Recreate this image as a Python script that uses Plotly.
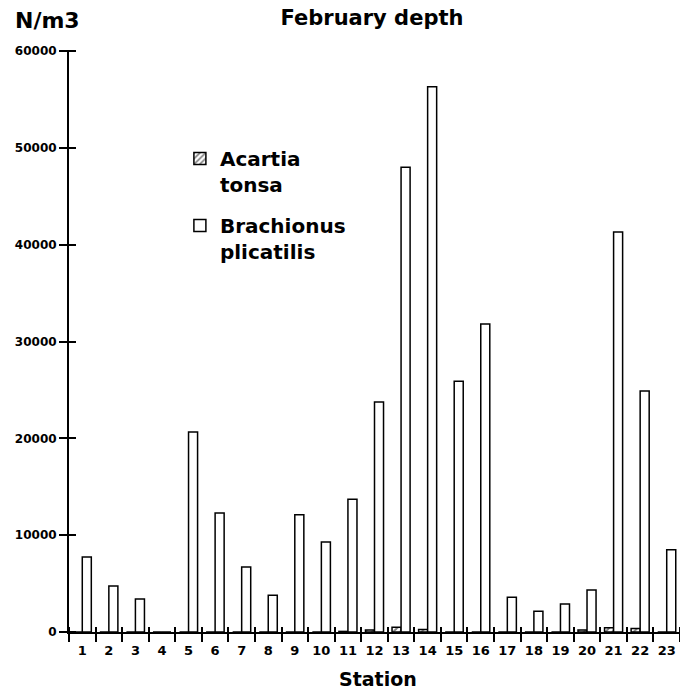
import plotly.graph_objects as go

stations = list(range(1, 24))
station_labels = [str(s) for s in stations]
acartia = [0, 0, 0, 0, 0, 0, 0, 0, 0, 0, 60, 200, 500, 250, 0, 0, 0, 0, 0, 200, 450, 350, 0]
brachionus = [7750, 4750, 3400, 0, 20650, 12300, 6700, 3800, 12100, 9300, 13700, 23750,
              48000, 56300, 25900, 31800, 3600, 2150, 2900, 4350, 41300, 24900, 8500]
y_ticks = [0, 10000, 20000, 30000, 40000, 50000, 60000]
boundaries = [s + 0.5 for s in [0] + stations]

FONT = "DejaVu Sans"
PW, PH = 611, 581  # plot area size in px
fig = go.Figure()
fig.add_trace(go.Bar(
    x=stations, y=acartia, name="<b>Acartia<br>tonsa</b>", legendgroup="a",
    marker=dict(color="white", line=dict(color="black", width=1.5),
                pattern=dict(shape="/", fgcolor="black", bgcolor="white", size=5, solidity=0.4)),
))
fig.add_trace(go.Bar(
    x=stations, y=brachionus, name="<b>Brachionus<br>plicatilis</b>", legendgroup="b",
    marker=dict(color="white", line=dict(color="black", width=1.5)),
))
# invisible helper traces so the crossing-tick axes are drawn
fig.add_trace(go.Scatter(x=[1], y=[0], xaxis="x", yaxis="y2", mode="none",
                         showlegend=False, hoverinfo="skip"))
fig.add_trace(go.Scatter(x=[1], y=[0], xaxis="x2", yaxis="y", mode="none",
                         showlegend=False, hoverinfo="skip"))

fig.update_layout(
    width=680, height=693,
    margin=dict(l=69, r=0, t=51, b=61),
    paper_bgcolor="white", plot_bgcolor="white",
    barmode="group", bargap=0.32, bargroupgap=0,
    font=dict(family=FONT, color="black"),
    showlegend=True,
    title=dict(text="<b>February depth</b>", x=0.547, xanchor="center", y=1 - 18 / 693,
               yanchor="middle", font=dict(size=21, family=FONT)),
    xaxis=dict(range=[0.5, 23.5], tickvals=stations, ticktext=[f"<b>{s}</b>" for s in station_labels],
               ticks="outside", ticklen=5, tickcolor="rgba(0,0,0,0)",
               showgrid=False, zeroline=False, showline=True, linecolor="black", linewidth=2,
               tickfont=dict(size=13, family=FONT)),
    yaxis=dict(range=[0, 60000], tickvals=y_ticks, ticktext=[f"<b>{v}</b>" for v in y_ticks],
               ticks="outside", ticklen=8, tickwidth=2, tickcolor="black",
               showgrid=False, zeroline=False, showline=True, linecolor="black", linewidth=2,
               tickfont=dict(size=12, family=FONT)),
    # boundary ticks crossing the x axis line
    xaxis2=dict(overlaying="x", range=[0.5, 23.5], anchor="free", position=6 / PH,
                tickvals=boundaries, ticktext=[""] * len(boundaries),
                ticks="outside", ticklen=15, tickwidth=2, tickcolor="black",
                showgrid=False, zeroline=False, showline=False),
    # y ticks crossing the y axis line
    yaxis2=dict(overlaying="y", range=[0, 60000], anchor="free", position=7 / PW, side="left",
                tickvals=y_ticks, ticktext=[""] * len(y_ticks),
                ticks="outside", ticklen=15, tickwidth=2, tickcolor="black",
                showgrid=False, zeroline=False, showline=False),
    legend=dict(x=0.1815, y=(632 - 139) / PH, xanchor="left", yanchor="top", bgcolor="rgba(0,0,0,0)",
                font=dict(size=20, family=FONT), tracegroupgap=12, valign="top",
                itemwidth=30),
    annotations=[
        dict(text="<b>N/m3</b>", xref="paper", yref="paper", x=(47 - 69) / PW, y=(632 - 20) / PH,
             xanchor="center", yanchor="middle", showarrow=False, font=dict(size=22, family=FONT)),
        dict(text="<b>Station</b>", xref="paper", yref="paper", x=(378 - 69) / PW, y=(632 - 679) / PH,
             xanchor="center", yanchor="middle", showarrow=False, font=dict(size=19, family=FONT)),
    ],
)
fig.write_html("out.html")
